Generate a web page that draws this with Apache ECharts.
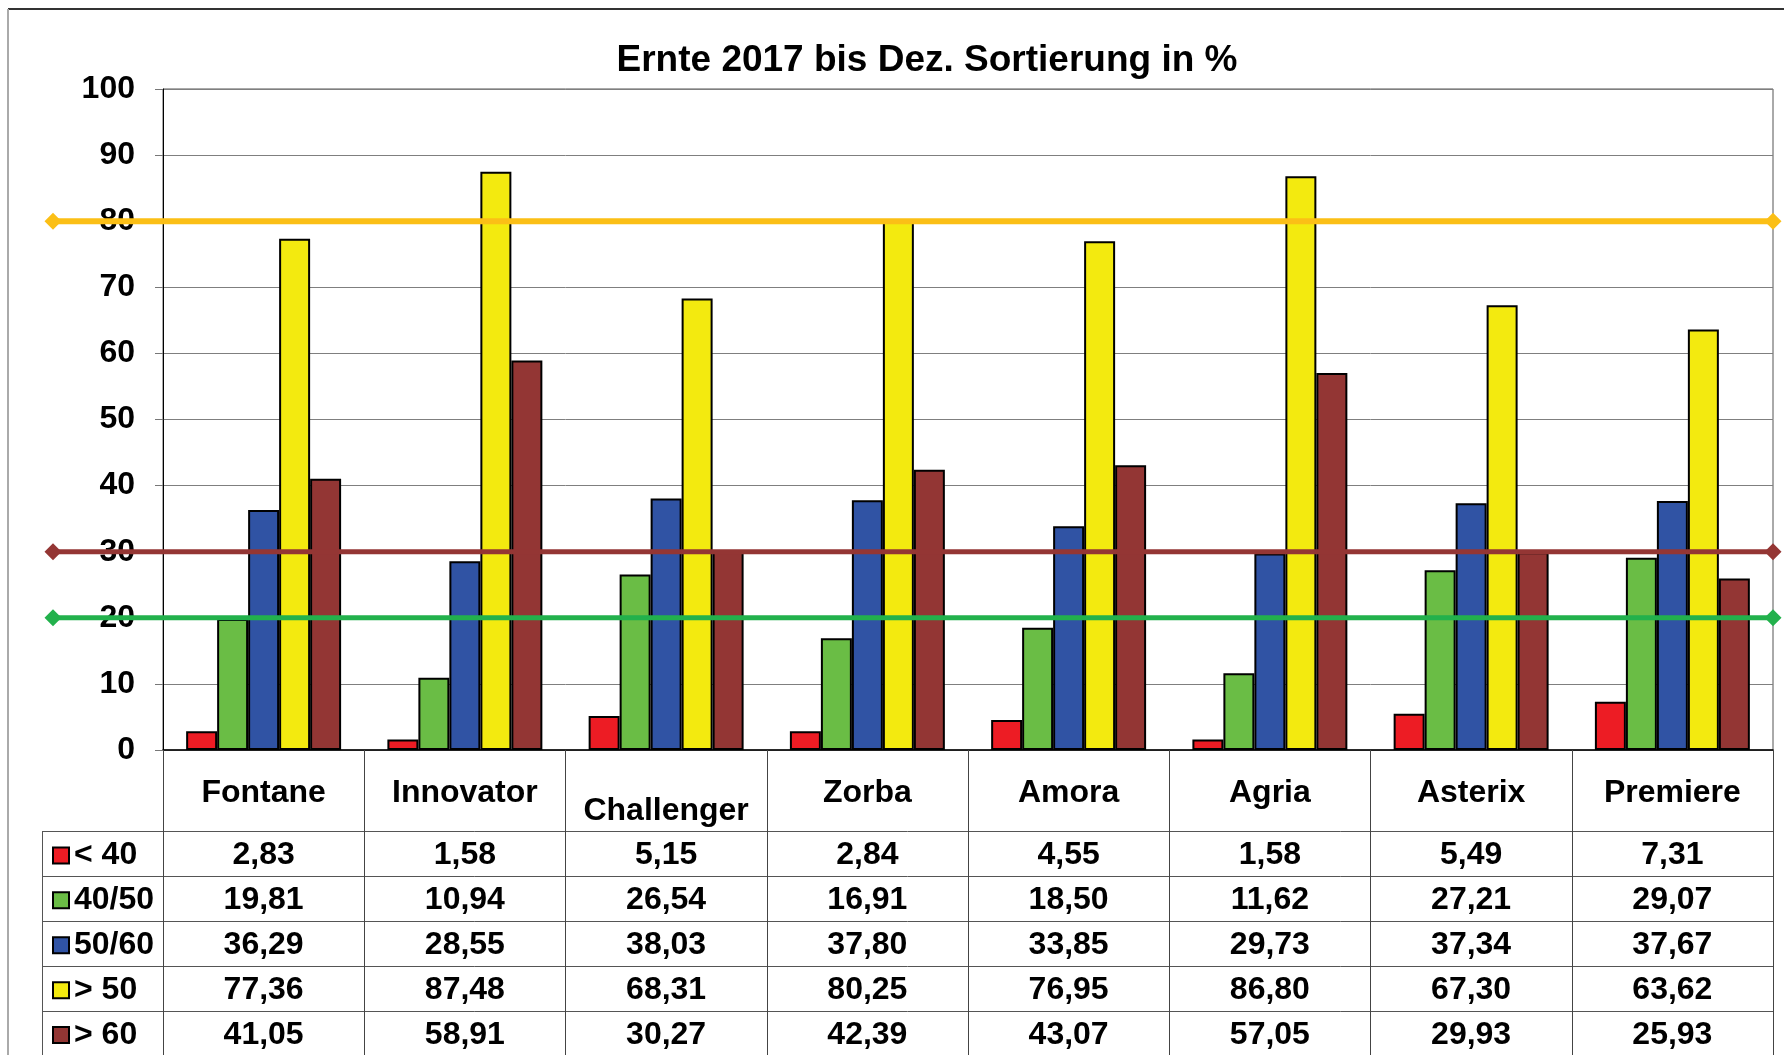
<!DOCTYPE html>
<html>
<head>
<meta charset="utf-8">
<title>Ernte 2017 bis Dez. Sortierung in %</title>
<script src="https://cdn.jsdelivr.net/npm/echarts@6/dist/echarts.min.js"></script>
<style>
  html, body { margin: 0; padding: 0; background: #fff; }
  #chart { width: 1784px; height: 1055px; }
</style>
</head>
<body>
<div id="chart"></div>
<script>
// Daten
var sorten = ['Fontane', 'Innovator', 'Challenger', 'Zorba', 'Amora', 'Agria', 'Asterix', 'Premiere'];
var klassen = ['< 40', '40/50', '50/60', '> 50', '> 60'];
var unter40 = [2.83, 1.58, 5.15, 2.84, 4.55, 1.58, 5.49, 7.31];
var s40_50 = [19.81, 10.94, 26.54, 16.91, 18.50, 11.62, 27.21, 29.07];
var s50_60 = [36.29, 28.55, 38.03, 37.80, 33.85, 29.73, 37.34, 37.67];
var ueber50 = [77.36, 87.48, 68.31, 80.25, 76.95, 86.80, 67.30, 63.62];
var ueber60 = [41.05, 58.91, 30.27, 42.39, 43.07, 57.05, 29.93, 25.93];
var refWerte = [80, 30, 20];

var farben = ['#ED1C24', '#6ABD45', '#3053A4', '#F3EA0F', '#933634'];
var refFarben = ['#FBBF16', '#943634', '#22B14C'];
var reihen = [unter40, s40_50, s50_60, ueber50, ueber60];

// Layout
var W = 1784, H = 1055;
var gridLeft = 163, gridRight = 1773, gridTop = 89, gridBottom = 750;
var tabLeft = 42;
var rowTop0 = 831, rowH = 44.9;
var font = "'Liberation Sans', Arial, Helvetica, sans-serif";

function fmt(v) { return v.toFixed(2).replace('.', ','); }

var chart = echarts.init(document.getElementById('chart'));

// x-Achsen: Sortennamen + Tabellenzeilen
var xAxes = [{
  gridIndex: 0,
  type: 'category',
  data: sorten.map(function (s) {
    return s === 'Challenger' ? { value: s, textStyle: { padding: [18, 0, 0, 0] } } : s;
  }),
  axisLine: { lineStyle: { color: '#000', width: 1.5 } },
  axisTick: { show: true, length: H - gridBottom, lineStyle: { color: '#444', width: 1 } },
  axisLabel: { interval: 0, margin: 27, color: '#000', fontSize: 32, fontWeight: 'bold', fontFamily: font },
  splitLine: { show: false }
}];
reihen.forEach(function (r, i) {
  xAxes.push({
    gridIndex: 0,
    type: 'category',
    position: 'bottom',
    offset: rowTop0 + i * rowH - gridBottom,
    data: sorten,
    axisLine: { show: false },
    axisTick: { show: false },
    axisLabel: {
      interval: 0, margin: rowH / 2 + 2, verticalAlign: 'middle',
      color: '#000', fontSize: 32, fontWeight: 'bold', fontFamily: font,
      formatter: function (v, idx) { return fmt(r[idx]); }
    }
  });
});
// Achse für Referenzlinien
xAxes.push({ gridIndex: 1, type: 'value', min: 0, max: 1, show: false });

var series = reihen.map(function (r, i) {
  return {
    name: klassen[i],
    type: 'bar',
    xAxisIndex: 0,
    yAxisIndex: 0,
    data: r,
    barGap: '0%',
    barCategoryGap: '23%',
    itemStyle: { color: farben[i], borderColor: '#000', borderWidth: 2 },
    emphasis: { disabled: true }
  };
});
refWerte.forEach(function (v, i) {
  series.push({
    name: 'ref' + v,
    type: 'line',
    xAxisIndex: xAxes.length - 1,
    yAxisIndex: 1,
    data: [[0, v], [1, v]],
    symbol: 'diamond',
    symbolSize: 17,
    z: 10,
    lineStyle: { color: refFarben[i], width: i === 0 ? 6 : 5 },
    itemStyle: { color: refFarben[i] },
    emphasis: { disabled: true },
    silent: true
  });
});

// Tabellenlinien
var graphics = [];
for (var k = 0; k < 5; k++) {
  var y = Math.round(rowTop0 + k * rowH) + 0.5;
  graphics.push({ type: 'line', shape: { x1: tabLeft, y1: y, x2: gridRight, y2: y }, style: { stroke: '#555', lineWidth: 1 } });
}
graphics.push({ type: 'line', shape: { x1: tabLeft + 0.5, y1: rowTop0, x2: tabLeft + 0.5, y2: H }, style: { stroke: '#555', lineWidth: 1 } });
// Rahmen
graphics.push({ type: 'line', shape: { x1: 8, y1: 9, x2: W, y2: 9 }, style: { stroke: '#333', lineWidth: 2 } });
graphics.push({ type: 'line', shape: { x1: 8, y1: 9, x2: 8, y2: H }, style: { stroke: '#aaa', lineWidth: 2 } });
// Titel
graphics.push({
  type: 'text', x: 927, y: 61,
  style: { text: 'Ernte 2017 bis Dez. Sortierung in %', align: 'center', verticalAlign: 'middle', fill: '#000', font: 'bold 37px ' + font }
});

var option = {
  animation: false,
  backgroundColor: '#fff',
  legend: {
    data: klassen,
    orient: 'vertical',
    icon: 'rect',
    left: 52,
    top: rowTop0 + (rowH - 32) / 2 + 2,
    padding: 0,
    itemWidth: 16,
    itemHeight: 16,
    itemGap: rowH - 32,
    selectedMode: false,
    textStyle: { color: '#000', fontSize: 32, fontWeight: 'bold', fontFamily: font, lineHeight: 32 }
  },
  grid: [
    {
      left: gridLeft, right: W - gridRight, top: gridTop, bottom: H - gridBottom,
      show: true, borderColor: '#555', borderWidth: 1, backgroundColor: 'transparent',
      outerBoundsMode: 'none'
    },
    {
      left: 53, right: W - gridRight, top: gridTop, bottom: H - gridBottom,
      outerBoundsMode: 'none'
    }
  ],
  xAxis: xAxes,
  yAxis: [
    {
      gridIndex: 0, type: 'value', min: 0, max: 100, interval: 10,
      axisLine: { show: true, lineStyle: { color: '#000', width: 1 } },
      axisTick: { show: true, length: 8, lineStyle: { color: '#777' } },
      axisLabel: { margin: 28, color: '#000', fontSize: 32, fontWeight: 'bold', fontFamily: font },
      splitLine: { show: true, lineStyle: { color: '#7f7f7f', width: 1 } }
    },
    { gridIndex: 1, type: 'value', min: 0, max: 100, show: false }
  ],
  series: series,
  graphic: graphics
};

chart.setOption(option);
</script>
</body>
</html>
